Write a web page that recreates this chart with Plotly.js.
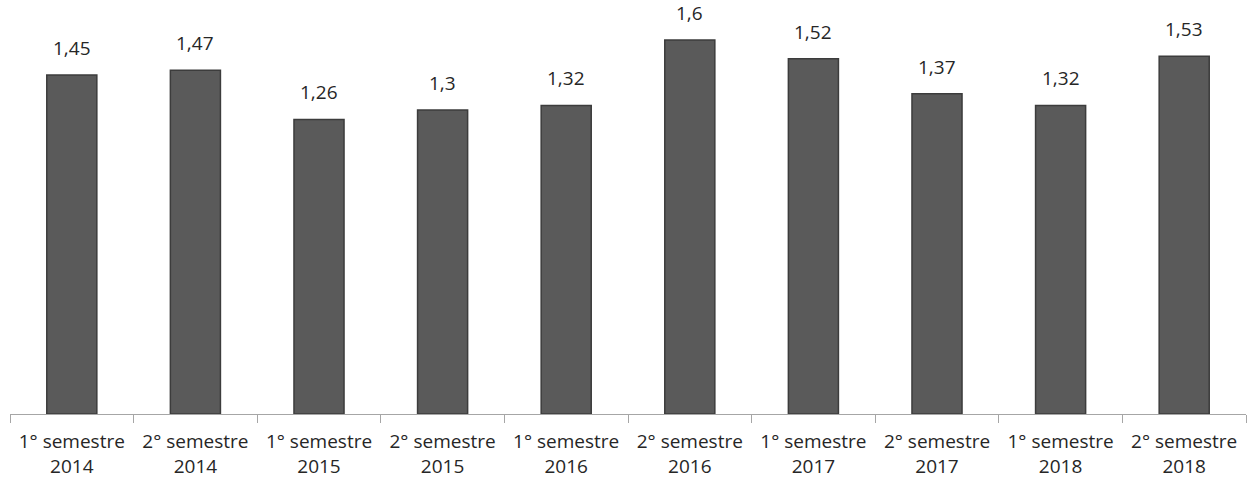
<!DOCTYPE html>
<html><head><meta charset="utf-8">
<script src="https://cdn.plot.ly/plotly-3.0.1.min.js"></script>
<style>body{margin:0;background:#fff}#c{width:1250px;height:481px}</style>
</head><body><div id="c"></div>
<script>
const categories = ["1° semestre<br>2014","2° semestre<br>2014","1° semestre<br>2015","2° semestre<br>2015","1° semestre<br>2016","2° semestre<br>2016","1° semestre<br>2017","2° semestre<br>2017","1° semestre<br>2018","2° semestre<br>2018"];
const values = [1.45,1.47,1.26,1.3,1.32,1.6,1.52,1.37,1.32,1.53];
const labels = values.map(v => String(v).replace('.', ','));

const FONT = 'Open Sans, sans-serif';
const annotations = categories.map((c, i) => ({
  x: c, y: values[i], xref: 'x', yref: 'y', text: labels[i],
  showarrow: false, yanchor: 'bottom', yshift: 12,
  font: {family: FONT, size: 19, color: '#262626'}
}));

Plotly.newPlot('c', [{
  type: 'bar', x: categories, y: values,
  marker: {color: '#5a5a5a', line: {color: '#3c3c3c', width: 1.5}},
  hoverinfo: 'none'
}], {
  width: 1250, height: 481,
  margin: {l: 10, r: 4, t: 0, b: 67},
  paper_bgcolor: '#fff', plot_bgcolor: '#fff',
  bargap: 0.595,
  showlegend: false,
  annotations: annotations,
  font: {family: FONT, size: 19, color: '#262626'},
  xaxis: {showline: true, linecolor: '#a6a6a6', linewidth: 1, ticks: 'outside', tickson: 'boundaries', ticklen: 8, tickcolor: '#a6a6a6', showgrid: false, tickfont: {family: FONT, size: 19, color: '#262626'}, ticklabelstandoff: 10, fixedrange: true},
  yaxis: {range: [0, 1.771], visible: false, showgrid: false, zeroline: false, fixedrange: true}
}, {displayModeBar: false, staticPlot: true});
</script></body></html>
